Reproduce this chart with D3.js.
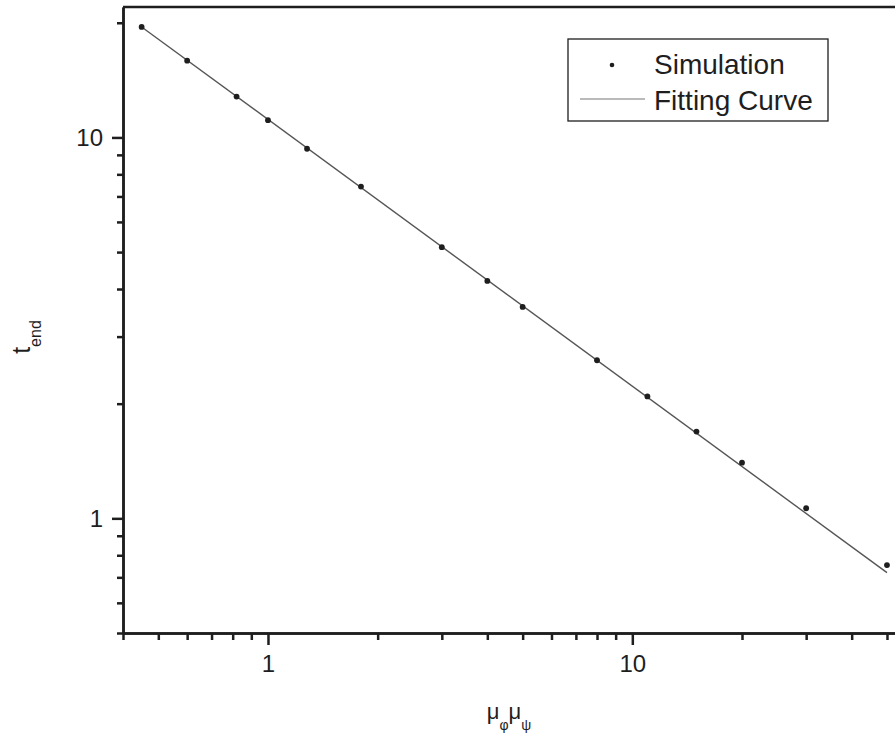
<!DOCTYPE html>
<html>
<head>
<meta charset="utf-8">
<script src="https://cdn.jsdelivr.net/npm/d3@7"></script>
<style>
  html, body { margin: 0; padding: 0; background: #fff; }
  svg { display: block; font-family: "Liberation Sans", Arial, sans-serif; }
</style>
</head>
<body>
<svg id="chart" width="895" height="739"></svg>
<script>
// ---- data ----
const muProduct = [0.45, 0.6, 0.82, 1, 1.28, 1.8, 3, 4, 5, 8, 11, 15, 20, 30, 50];
const tEnd      = [19.5, 15.9, 12.8, 11.1, 9.34, 7.43, 5.15, 4.20, 3.59, 2.60, 2.09, 1.69, 1.40, 1.063, 0.754];
const fitX = [0.45, 50];
const fitY = [19.5, 0.72];
const xMajorTicks = [1, 10];
const xMinorTicks = [0.4, 0.5, 0.6, 0.7, 0.8, 0.9, 2, 3, 4, 5, 6, 7, 8, 9, 20, 30, 40, 50];
const yMajorTicks = [1, 10];
const yMinorTicks = [0.5, 0.6, 0.7, 0.8, 0.9, 2, 3, 4, 5, 6, 7, 8, 9, 20];
const xDomain = [0.4, 52.6];
const yDomain = [0.5, 22];
const legendLabels = ["Simulation", "Fitting Curve"];

// ---- layout ----
const L = 123, R = 895, T = 7, B = 633;
const svg = d3.select("#chart");
const x = d3.scaleLog().domain(xDomain).range([L, R]);
const y = d3.scaleLog().domain(yDomain).range([B, T]);
const ink = "#1e1e1e";

// top border
svg.append("line").attr("x1", L).attr("x2", R).attr("y1", T).attr("y2", T)
  .attr("stroke", ink).attr("stroke-width", 2.5);

function styleAxis(g) {
  g.selectAll("path.domain").attr("stroke", ink).attr("stroke-width", 2.5);
  g.selectAll(".tick line").attr("stroke", ink).attr("stroke-width", 2.5);
  g.selectAll(".tick text").attr("fill", ink).attr("font-size", 24)
    .attr("font-family", "'Liberation Sans', Arial, sans-serif");
}

// x axis minor + major
const gxMinor = svg.append("g").attr("transform", `translate(0,${B})`)
  .call(d3.axisBottom(x).tickValues(xMinorTicks).tickSize(7).tickSizeOuter(0).tickFormat(""));
styleAxis(gxMinor);
const gx = svg.append("g").attr("transform", `translate(0,${B})`)
  .call(d3.axisBottom(x).tickValues(xMajorTicks).tickSize(12).tickSizeOuter(0).tickPadding(10).tickFormat(d => String(d)));
styleAxis(gx);

// y axis minor + major
const gyMinor = svg.append("g").attr("transform", `translate(${L},0)`)
  .call(d3.axisLeft(y).tickValues(yMinorTicks).tickSize(6).tickSizeOuter(0).tickFormat(""));
styleAxis(gyMinor);
const gy = svg.append("g").attr("transform", `translate(${L},0)`)
  .call(d3.axisLeft(y).tickValues(yMajorTicks).tickSize(11).tickSizeOuter(0).tickPadding(9).tickFormat(d => String(d)));
styleAxis(gy);

// fitting curve
const fitData = fitX.map((v, i) => [v, fitY[i]]);
svg.append("path").datum(fitData)
  .attr("fill", "none").attr("stroke", "#555").attr("stroke-width", 1.4)
  .attr("d", d3.line().x(d => x(d[0])).y(d => y(d[1])));

// simulation points
svg.append("g").selectAll("circle").data(muProduct.map((v, i) => [v, tEnd[i]]))
  .join("circle")
  .attr("cx", d => x(d[0])).attr("cy", d => y(d[1])).attr("r", 2.9)
  .attr("fill", ink);

// axis titles
const xt = svg.append("text").attr("x", 509).attr("y", 719)
  .attr("text-anchor", "middle").attr("fill", ink).attr("font-size", 22);
xt.append("tspan").text("μ");
xt.append("tspan").attr("font-size", 14).attr("dy", 11).text("φ");
xt.append("tspan").attr("dy", -11).text("μ");
xt.append("tspan").attr("font-size", 14).attr("dy", 11).text("ψ");

const yt = svg.append("text").attr("transform", "translate(30,337) rotate(-90)")
  .attr("text-anchor", "middle").attr("fill", ink).attr("font-size", 25);
yt.append("tspan").text("t");
yt.append("tspan").attr("font-size", 16).attr("dy", 11).text("end");

// legend
const lg = svg.append("g");
lg.append("rect").attr("x", 568).attr("y", 39).attr("width", 260).attr("height", 82)
  .attr("fill", "#fff").attr("stroke", ink).attr("stroke-width", 1.3);
lg.append("circle").attr("cx", 612).attr("cy", 65).attr("r", 2.3).attr("fill", ink);
lg.append("line").attr("x1", 580).attr("x2", 645).attr("y1", 99).attr("y2", 99)
  .attr("stroke", "#777").attr("stroke-width", 1.2);
lg.selectAll("text.lab").data(legendLabels).join("text")
  .attr("class", "lab")
  .attr("x", 654).attr("y", (d, i) => i === 0 ? 74 : 110)
  .attr("fill", ink).attr("font-size", 28).text(d => d);
</script>
</body>
</html>
